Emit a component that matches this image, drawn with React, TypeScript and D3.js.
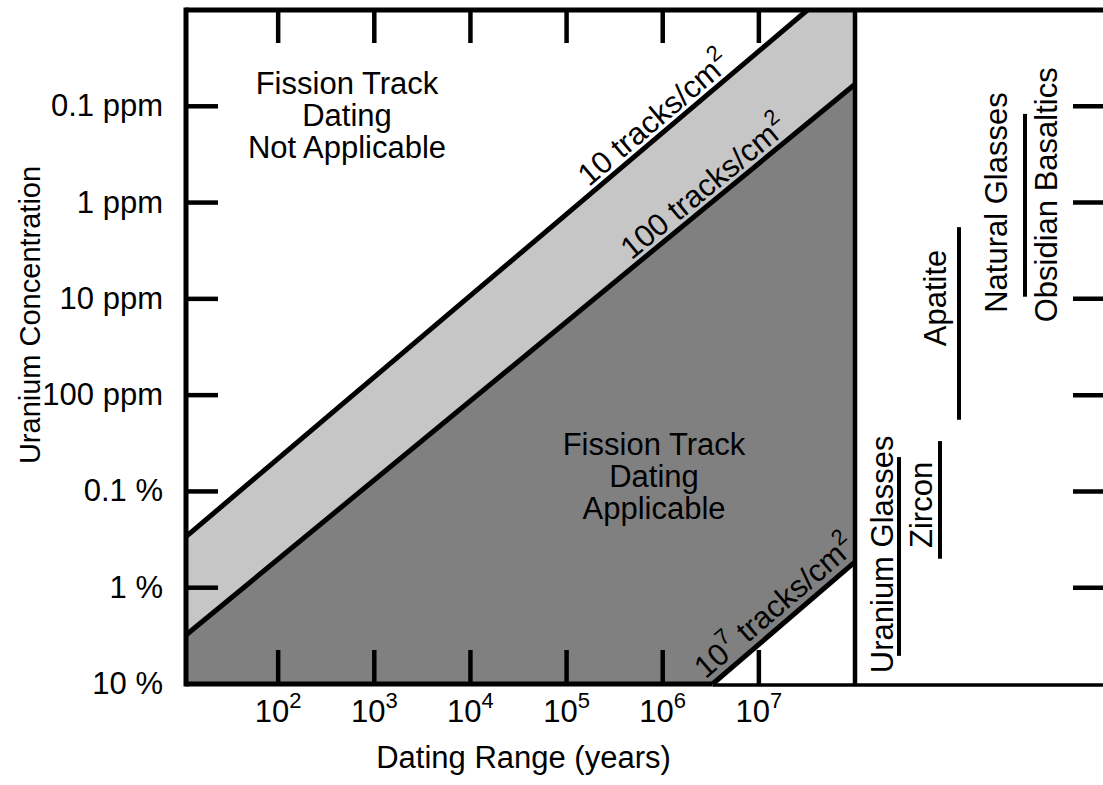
import React from 'react';
import * as d3 from 'd3';

// x axis: dating range (years), log scale
const xTickValues = [1e2, 1e3, 1e4, 1e5, 1e6, 1e7];
const xTickExponents = ['2', '3', '4', '5', '6', '7'];

// y axis: uranium concentration in ppm, log scale (grows downward)
const yTickValues = [0.1, 1, 10, 100, 1000, 10000, 100000];
const yTickLabels = ['0.1 ppm', '1 ppm', '10 ppm', '100 ppm', '0.1 %', '1 %', '10 %'];

// iso-track lines: [age, uranium ppm] end points
const line10Age = [11, 3.2e7];
const line10U = [2950, 0.01];
const line100Age = [11, 1e8];
const line100U = [31000, 0.059];
const line1e7Age = [3.3e6, 1e8];
const line1e7U = [100000, 5400];

// mineral uranium ranges (ppm)
const minerals = ['Uranium Glasses', 'Zircon', 'Apatite', 'Natural Glasses'];
const mineralLow = [440, 300, 1.8, 0.12];
const mineralHigh = [51000, 5000, 180, 9.5];

const FONT = '"Liberation Sans", Arial, Helvetica, sans-serif';

const App = () => {
  const W = 1103, H = 785;
  const x = d3.scaleLog().domain([11, 1e8]).range([186, 855]);
  const y = d3.scaleLog().domain([0.01, 1e5]).range([10, 684]);
  const left = x.range()[0], right = x.range()[1];
  const top = y.range()[0], bottom = y.range()[1];

  const line = d3.line<[number, number]>().x(d => x(d[0])).y(d => y(d[1]));
  const poly = (pts: [number, number][]) => line(pts) + 'Z';

  const lightBand: [number, number][] = [
    [line10Age[0], line10U[0]], [line10Age[1], line10U[1]],
    [1e8, 0.01], [line100Age[1], line100U[1]], [line100Age[0], line100U[0]],
  ];
  const darkBand: [number, number][] = [
    [line100Age[0], line100U[0]], [line100Age[1], line100U[1]],
    [line1e7Age[1], line1e7U[1]], [line1e7Age[0], line1e7U[0]], [11, 1e5],
  ];

  // label placed along a line: fraction f, perpendicular offset off
  const along = (ages: number[], us: number[], f: number, off: number) => {
    const x0 = x(ages[0]), y0 = y(us[0]), x1 = x(ages[1]), y1 = y(us[1]);
    const a = Math.atan2(y1 - y0, x1 - x0);
    const px = x0 + (x1 - x0) * f + off * Math.sin(a);
    const py = y0 + (y1 - y0) * f - off * Math.cos(a);
    return `translate(${px},${py}) rotate(${(a * 180) / Math.PI})`;
  };

  // right panel layout
  const mineralLineX = [899, 940, 959, 1025];
  const labelBaseX = [893, 932, 946, 1007];
  const labelCenterU = [4500, 1380, 9.8, 1];

  const fs = 31;
  const sup = 22;

  return (
    <svg width={W} height={H} style={{ position: 'absolute', left: 0, top: 0, background: '#fff' }}
      fontFamily={FONT}>
      <path d={poly(lightBand)} fill="#c6c6c6" />
      <path d={poly(darkBand)} fill="#808080" />

      {/* iso-track lines */}
      {[[line10Age, line10U], [line100Age, line100U], [line1e7Age, line1e7U]].map(([a, u], i) => (
        <path key={i} d={line([[a[0], u[0]], [a[1], u[1]]])!} stroke="#000" strokeWidth={5} fill="none" />
      ))}

      {/* frame */}
      <line x1={left} x2={W + 5} y1={top} y2={top} stroke="#000" strokeWidth={5} />
      <line x1={left} x2={left} y1={top - 2.5} y2={bottom + 2.5} stroke="#000" strokeWidth={5} />
      <line x1={left} x2={x(line1e7Age[0])} y1={bottom} y2={bottom} stroke="#000" strokeWidth={5} />
      <line x1={x(line1e7Age[0])} x2={W + 5} y1={bottom + 1} y2={bottom + 1} stroke="#000" strokeWidth={3.5} />
      <line x1={right} x2={right} y1={top} y2={bottom + 2} stroke="#000" strokeWidth={4.5} />

      {/* x ticks top and bottom */}
      {xTickValues.map((v, i) => (
        <g key={i}>
          <line x1={x(v)} x2={x(v)} y1={top} y2={top + 33} stroke="#000" strokeWidth={4.5} />
          <line x1={x(v)} x2={x(v)} y1={bottom} y2={bottom - 34} stroke="#000" strokeWidth={4.5} />
          <text x={x(v)} y={722} textAnchor="middle" fontSize={fs}>
            10<tspan dy={-14} fontSize={sup}>{xTickExponents[i]}</tspan>
          </text>
        </g>
      ))}

      {/* y ticks left and right */}
      {yTickValues.map((v, i) => (
        <g key={i}>
          {i < yTickValues.length - 1 && (
            <>
              <line x1={left} x2={left + 32} y1={y(v)} y2={y(v)} stroke="#000" strokeWidth={4.5} />
              <line x1={1073} x2={W + 5} y1={y(v)} y2={y(v)} stroke="#000" strokeWidth={4.5} />
            </>
          )}
          <text x={163} y={y(v) + 10} textAnchor="end" fontSize={fs}>{yTickLabels[i]}</text>
        </g>
      ))}

      {/* axis titles */}
      <text x={(left + right) / 2 + 3} y={768} textAnchor="middle" fontSize={fs}>Dating Range (years)</text>
      <text transform={`translate(40,${(top + bottom) / 2 - 32}) rotate(-90)`} textAnchor="middle" fontSize={29}>
        Uranium Concentration
      </text>

      {/* region labels */}
      <text x={347} textAnchor="middle" fontSize={fs}>
        <tspan x={347} y={94}>Fission Track</tspan>
        <tspan x={347} y={126}>Dating</tspan>
        <tspan x={347} y={158}>Not Applicable</tspan>
      </text>
      <text x={654} textAnchor="middle" fontSize={fs}>
        <tspan x={654} y={455}>Fission Track</tspan>
        <tspan x={654} y={487}>Dating</tspan>
        <tspan x={654} y={519}>Applicable</tspan>
      </text>

      {/* iso-track labels */}
      <text transform={along(line10Age, line10U, 0.77, 6)} textAnchor="middle" fontSize={fs}>
        10 tracks/cm<tspan dy={-14} fontSize={sup}>2</tspan>
      </text>
      <text transform={along(line100Age, line100U, 0.79, 6)} textAnchor="middle" fontSize={fs}>
        100 tracks/cm<tspan dy={-14} fontSize={sup}>2</tspan>
      </text>
      <text transform={along(line1e7Age, line1e7U, 0.52, 8)} textAnchor="middle" fontSize={fs}>
        10<tspan dy={-14} fontSize={sup}>7</tspan><tspan dy={14}> tracks/cm</tspan>
        <tspan dy={-14} fontSize={sup}>2</tspan>
      </text>

      {/* mineral ranges */}
      {minerals.map((m, i) => (
        <g key={m}>
          <line x1={mineralLineX[i]} x2={mineralLineX[i]} y1={y(mineralLow[i])} y2={y(mineralHigh[i])}
            stroke="#000" strokeWidth={4} />
          <text transform={`translate(${labelBaseX[i]},${y(labelCenterU[i])}) rotate(-90)`}
            textAnchor="middle" fontSize={fs}>{m}</text>
        </g>
      ))}
      <text transform={`translate(1057,${y(0.83)}) rotate(-90)`} textAnchor="middle" fontSize={fs}>
        Obsidian Basaltics
      </text>
    </svg>
  );
};

export default App;
